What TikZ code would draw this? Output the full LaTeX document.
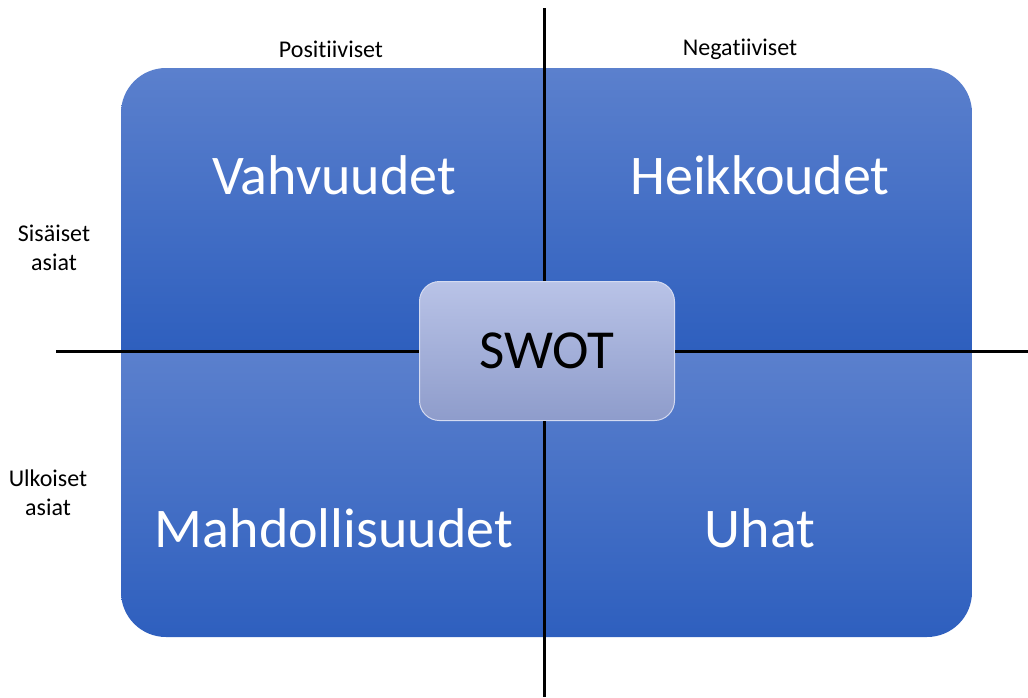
\documentclass[tikz,border=0pt]{standalone}
\usepackage{fontspec}
\setmainfont{Carlito}[Ligatures=NoCommon]
\usetikzlibrary{positioning}
\definecolor{quadtop}{HTML}{5B80CD}
\definecolor{quadbot}{HTML}{2E5FBE}
\definecolor{swottop}{HTML}{B9C3E7}
\definecolor{swotbot}{HTML}{8E9CCB}

\begin{document}
\begin{tikzpicture}[
  x=1pt, y=-1pt,
  quad/.style={text=white, inner sep=0pt, font=\fontsize{56}{62}\selectfont},
  axislabel/.style={align=center, inner sep=0pt, font=\fontsize{24}{29}\selectfont},
  band/.style={top color=quadtop, bottom color=quadbot, draw=none},
  core/.style={rounded corners=20pt, minimum width=255pt, minimum height=139pt, top color=swottop, bottom color=swotbot, draw=swottop!60!white, line width=1pt, font=\fontsize{55}{60}\selectfont},
  axis/.style={line width=3pt},
]
\useasboundingbox (0,0) rectangle (1028,697);

% blue field, two gradient bands
\begin{scope}
  \clip[rounded corners=45pt] (121,68) rectangle (972,637);
  \path[band] (121,68) rectangle (972,351);
  \path[band] (121,351) rectangle (972,637);
\end{scope}

\node[quad] (strength) at (334,175) {Vahvuudet};
\node[quad] (weakness) at (760,175) {Heikkoudet};
\node[quad] (chance) at (334,528) {Mahdollisuudet};
\node[quad] (threat) at (760,528) {Uhat};

\node[axislabel] (pos) at (331,49) {Positiiviset};
\node[axislabel] (neg) at (740,49) {Negatiiviset};
\node[axislabel] (inner) at (54,248) {Sisäiset\\asiat};
\node[axislabel] (outer) at (48,493) {Ulkoiset\\asiat};

\node[core] (swot) at (547,351) {SWOT};

\coordinate (vtop) at (544,8);
\coordinate (vbot) at (544,697);
\coordinate (hleft) at (56,351);
\coordinate (hright) at (1028,351);

\draw[axis] (vtop) -- (swot.north -| vtop);
\draw[axis] (swot.south -| vbot) -- (vbot);
\draw[axis] (hleft) -- (swot.west);
\draw[axis] (swot.east) -- (hright);

\end{tikzpicture}
\end{document}
